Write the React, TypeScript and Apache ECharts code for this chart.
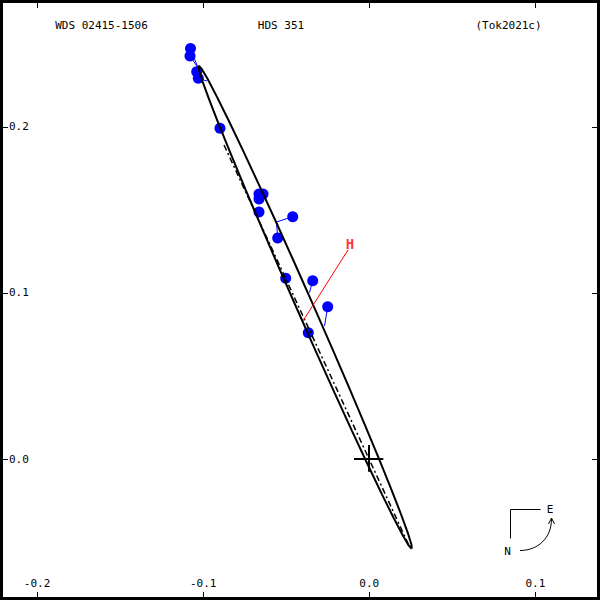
import React, { useEffect, useRef } from "react";
import * as echarts from "echarts";

const TITLE_LEFT = "WDS 02415-1506";
const TITLE_MID = "HDS 351";
const TITLE_RIGHT = "(Tok2021c)";

const X_TICKS = [-0.2, -0.1, 0.0, 0.1];
const Y_TICKS = [0.0, 0.1, 0.2];

// observed positions
const obsX = [-0.10764, -0.10794, -0.10391, -0.10294, -0.08988, -0.0664, -0.06399, -0.0664, -0.0664, -0.04611, -0.05514, -0.05033, -0.03407, -0.02504, -0.03672];
const obsY = [0.24712, 0.24261, 0.23315, 0.22918, 0.19908, 0.15953, 0.15953, 0.15652, 0.14869, 0.14586, 0.13304, 0.10878, 0.10734, 0.09168, 0.07603];

// residual lines: observation index -> predicted position on orbit
const residIdx = [0, 1, 3, 9, 10, 12, 13];
const residEndX = [-0.10342, -0.10342, -0.0977, -0.05587, -0.05587, -0.036, -0.02697];
const residEndY = [0.23629, 0.23598, 0.22756, 0.14267, 0.14267, 0.10023, 0.08007];

// orbit outline (apparent ellipse)
const orbitX = [0.02554, 0.02535, 0.02322, 0.0192, 0.01344, 0.00609, -0.00261, -0.01241, -0.02301, -0.03407, -0.04527, -0.05627, -0.06674, -0.07635, -0.08481, -0.09187, -0.0973, -0.10096,
  -0.10271, -0.10253, -0.1004, -0.09638, -0.09061, -0.08327, -0.07456, -0.06476, -0.05417, -0.0431, -0.03191, -0.0209, -0.01044, -0.00083, 0.00763, 0.01469, 0.02012, 0.02379, 0.02554];
const orbitY = [-0.05404, -0.05148, -0.04458, -0.03356, -0.01872, -0.00057, 0.0204, 0.04352, 0.0681, 0.09338, 0.11859, 0.14299, 0.16581, 0.18639, 0.20406, 0.21831, 0.22871, 0.23494,
  0.2368, 0.23424, 0.22735, 0.21632, 0.20149, 0.18334, 0.16237, 0.13925, 0.11466, 0.08939, 0.06418, 0.03977, 0.01695, -0.00362, -0.02129, -0.03554, -0.04595, -0.05218, -0.05404];

// line of nodes
const nodesX = [-0.08747, 0.02402];
const nodesY = [0.18903, -0.05237];

// periastron marker line and label
const periX = [-0.03991, -0.01282];
const periY = [0.08308, 0.12582];
const periLabel = "H";
const periLabelPos = [-0.01162, 0.12943];

// primary cross
const crossH = [[-0.00921, 0], [0.00843, 0]];
const crossV = [[-0.00018, 0.00843], [-0.00018, -0.00765]];

const X_MIN = -0.22232;
const X_MAX = 0.13888;
const Y_MIN = -0.08488;
const Y_MAX = 0.27632;

const FONT = "DejaVu Sans Mono";

export default function App() {
  const ref = useRef<HTMLDivElement>(null);
  useEffect(() => {
    if (!ref.current) return;
    const chart = echarts.init(ref.current, null, { renderer: "svg" });

    const axisCommon = {
      type: "value" as const,
      axisLine: { show: false, onZero: false },
      splitLine: { show: false },
    };
    const tickStyle = { show: true, inside: true, length: 8, lineStyle: { color: "#000", width: 1 } };

    const orbit = orbitX.map((x, i) => [x, orbitY[i]]);
    const obs = obsX.map((x, i) => [x, obsY[i]]);
    const resid = residIdx.map((k, i) => ({ coords: [[obsX[k], obsY[k]], [residEndX[i], residEndY[i]]] }));

    chart.setOption({
      animation: false,
      backgroundColor: "#fff",
      grid: { left: 0, right: 0, top: 0, bottom: 0, containLabel: false },
      xAxis: [
        {
          ...axisCommon, position: "bottom", min: X_MIN, max: X_MAX,
          axisTick: { ...tickStyle, customValues: X_TICKS },
          axisLabel: { show: true, inside: true, margin: 11, customValues: X_TICKS, color: "#000", fontFamily: FONT, fontSize: 11, formatter: (v: number) => v.toFixed(1) },
        },
        {
          ...axisCommon, position: "top", min: X_MIN, max: X_MAX,
          axisTick: { ...tickStyle, customValues: X_TICKS },
          axisLabel: { show: false },
        },
      ],
      yAxis: [
        {
          ...axisCommon, position: "left", min: Y_MIN, max: Y_MAX,
          axisTick: { ...tickStyle, customValues: Y_TICKS },
          axisLabel: { show: true, inside: true, margin: 9, customValues: Y_TICKS, color: "#000", fontFamily: FONT, fontSize: 11, formatter: (v: number) => v.toFixed(1) },
        },
        {
          ...axisCommon, position: "right", min: Y_MIN, max: Y_MAX,
          axisTick: { ...tickStyle, customValues: Y_TICKS },
          axisLabel: { show: false },
        },
      ],
      series: [
        {
          type: "scatter", data: obs, symbol: "circle", symbolSize: 11,
          itemStyle: { color: "#0000ff", opacity: 1 }, silent: true, z: 1,
        },
        {
          type: "lines", coordinateSystem: "cartesian2d", data: resid,
          lineStyle: { color: "#0000ff", width: 1, opacity: 1 }, silent: true, z: 1,
        },
        {
          type: "line", data: orbit, showSymbol: false, symbol: "none", smooth: false,
          lineStyle: { color: "#000", width: 2 }, silent: true, z: 3,
        },
        {
          type: "line", data: nodesX.map((x, i) => [x, nodesY[i]]), showSymbol: false, symbol: "none",
          lineStyle: { color: "#000", width: 1.5, type: [6, 3, 2, 3] }, silent: true, z: 3,
        },
        {
          type: "lines", coordinateSystem: "cartesian2d",
          data: [{ coords: crossH }, { coords: crossV }],
          lineStyle: { color: "#000", width: 2, opacity: 1 }, silent: true, z: 3,
        },
        {
          type: "lines", coordinateSystem: "cartesian2d",
          data: [{ coords: periX.map((x, i) => [x, periY[i]]) }],
          lineStyle: { color: "#ff0000", width: 1, opacity: 1 }, silent: true, z: 4,
        },
        {
          type: "scatter", data: [periLabelPos], symbol: "circle", symbolSize: 1,
          itemStyle: { color: "rgba(0,0,0,0)" }, silent: true, z: 4,
          label: { show: true, position: "inside", formatter: periLabel, color: "#ff0000", fontFamily: FONT, fontWeight: "bold", fontSize: 14 },
        },
      ],
      graphic: [
        { type: "rect", shape: { x: 1.5, y: 1.5, width: 597, height: 597 }, style: { fill: "none", stroke: "#000", lineWidth: 3 }, z: 100, silent: true },
        { type: "text", x: 101.5, y: 25, style: { text: TITLE_LEFT, font: `11px '${FONT}'`, fill: "#000", align: "center", verticalAlign: "middle" } },
        { type: "text", x: 281, y: 25, style: { text: TITLE_MID, font: `11px '${FONT}'`, fill: "#000", align: "center", verticalAlign: "middle" } },
        { type: "text", x: 508.5, y: 25, style: { text: TITLE_RIGHT, font: `11px '${FONT}'`, fill: "#000", align: "center", verticalAlign: "middle" } },
        { type: "polyline", shape: { points: [[540.5, 509.5], [510.5, 509.5], [510.5, 538.5]] }, style: { stroke: "#000", lineWidth: 1, fill: "none" }, silent: true },
        { type: "text", x: 550, y: 509, style: { text: "E", font: `11px '${FONT}'`, fill: "#000", align: "center", verticalAlign: "middle" } },
        { type: "text", x: 507.5, y: 551, style: { text: "N", font: `11px '${FONT}'`, fill: "#000", align: "center", verticalAlign: "middle" } },
        { type: "bezierCurve", shape: { x1: 520, y1: 550.5, cpx1: 538, cpy1: 550.5, cpx2: 551.5, cpy2: 538, x2: 551.5, y2: 519 }, style: { stroke: "#000", lineWidth: 1, fill: "none" }, silent: true },
        { type: "polyline", shape: { points: [[548.5, 524], [551.5, 518], [554.5, 524]] }, style: { stroke: "#000", lineWidth: 1, fill: "none" }, silent: true },
      ],
    });
    return () => chart.dispose();
  }, []);
  return <div ref={ref} style={{ position: "fixed", left: 0, top: 0, width: 600, height: 600 }} />;
}
